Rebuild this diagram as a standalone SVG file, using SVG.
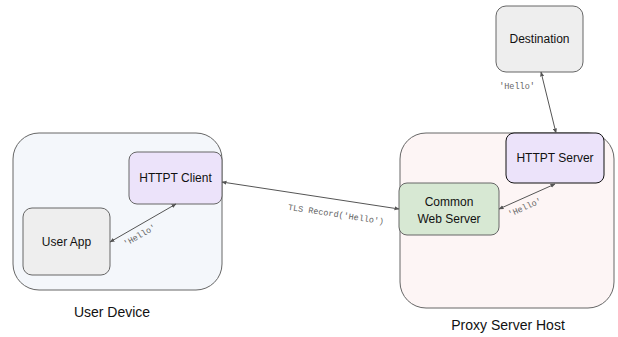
<svg xmlns="http://www.w3.org/2000/svg" width="618" height="337" viewBox="0 0 618 337">
  <style>
    .box { stroke: #666666; stroke-width: 1; }
    .node { font-family: "Liberation Sans", Arial, sans-serif; font-size: 12px; fill: #111111; text-anchor: middle; dominant-baseline: central; }
    .title { font-family: "Liberation Sans", Arial, sans-serif; font-size: 14px; fill: #111111; text-anchor: middle; dominant-baseline: central; }
    .msg { font-family: "Liberation Mono", "Courier New", monospace; font-size: 8.5px; fill: #666666; text-anchor: middle; dominant-baseline: central; }
    .link { stroke: #555555; stroke-width: 1; fill: none; marker-start: url(#tip); marker-end: url(#tip); }
  </style>
  <defs>
    <marker id="tip" viewBox="0 0 10 10" refX="9" refY="5" markerWidth="5" markerHeight="5" orient="auto-start-reverse" markerUnits="userSpaceOnUse">
      <path d="M0,1 L10,5 L0,9 z" fill="#555555"/>
    </marker>
  </defs>
  <rect width="618" height="337" fill="#ffffff"/>

  <g id="user-device">
    <rect class="box" x="13" y="133" width="209" height="157" rx="26" fill="#f4f7fb"/>
    <text class="title" x="112" y="312">User Device</text>
  </g>
  <g id="proxy-server-host">
    <rect class="box" x="400" y="133" width="214" height="175" rx="26" fill="#fdf5f5"/>
    <text class="title" x="508" y="325">Proxy Server Host</text>
  </g>

  <g id="httpt-client">
    <rect class="box" x="129" y="152" width="93" height="52" rx="8" fill="#ece3fa"/>
    <text class="node" x="175.5" y="178">HTTPT Client</text>
  </g>
  <g id="user-app">
    <rect class="box" x="23" y="208" width="87" height="67" rx="9" fill="#eeeeee"/>
    <text class="node" x="66.5" y="241.5">User App</text>
  </g>
  <g id="common-web-server">
    <rect class="box" x="399" y="183" width="100" height="52" rx="8" fill="#d7e8d3"/>
    <text class="node" x="449" y="202">Common</text>
    <text class="node" x="449" y="219">Web Server</text>
  </g>
  <g id="httpt-server">
    <rect x="506" y="133" width="98" height="50" rx="8" fill="#ece3fa" stroke="#111111" stroke-width="1"/>
    <text class="node" x="555" y="158">HTTPT Server</text>
  </g>
  <g id="destination">
    <rect class="box" x="496" y="6" width="87" height="66" rx="10" fill="#eeeeee"/>
    <text class="node" x="539.5" y="39">Destination</text>
  </g>

  <g id="connectors">
    <line class="link" x1="110" y1="242" x2="176" y2="204"/>
    <text class="msg" x="140" y="236" transform="rotate(-30 140 236)">'Hello'</text>

    <line class="link" x1="222" y1="182" x2="399" y2="209"/>
    <text class="msg" x="336" y="215" transform="rotate(8.6 336 215)">TLS Record('Hello')</text>

    <line class="link" x1="499" y1="209" x2="555" y2="184"/>
    <text class="msg" x="525" y="208" transform="rotate(-24 525 208)">'Hello'</text>

    <line class="link" x1="541" y1="72" x2="556" y2="133"/>
    <text class="msg" x="517" y="87">'Hello'</text>
  </g>
</svg>
